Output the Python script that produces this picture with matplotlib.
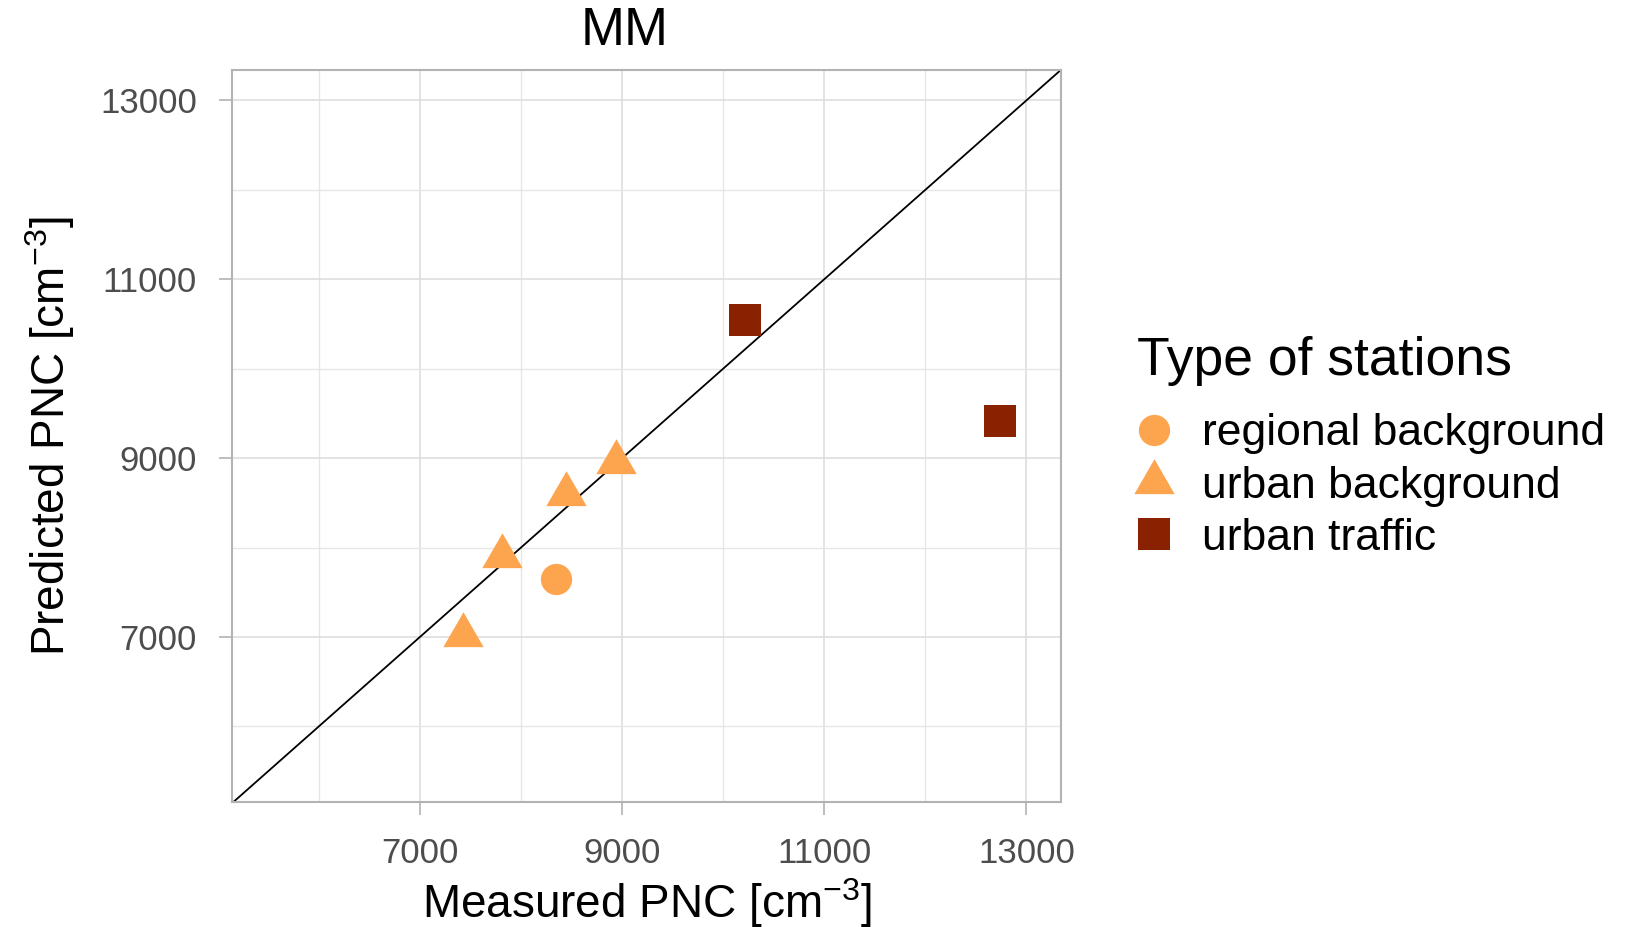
import numpy as np
import matplotlib.pyplot as plt
from matplotlib.path import Path
from matplotlib.lines import Line2D

plt.rcParams['font.family'] = ['Liberation Sans', 'DejaVu Sans']
plt.rcParams['mathtext.fontset'] = 'custom'
plt.rcParams['mathtext.rm'] = 'Liberation Sans'
plt.rcParams['mathtext.it'] = 'Liberation Sans:italic'
plt.rcParams['mathtext.default'] = 'regular'

# measured vs predicted PNC per station type
station_types = ['regional background', 'urban background', 'urban traffic']
measured = {
    'regional background': [8351],
    'urban background': [7428, 7817, 8443, 8938],
    'urban traffic': [10220, 12740],
}
predicted = {
    'regional background': [7654],
    'urban background': [7018, 7901, 8603, 8960],
    'urban traffic': [10549, 9410],
}
major_ticks = [7000, 9000, 11000, 13000]
minor_ticks = [6000, 8000, 10000, 12000]

# triangle centred on its centroid, like R's pch 17
tri = Path([(0, 1), (-0.866, -0.5), (0.866, -0.5), (0, 1)],
           [Path.MOVETO, Path.LINETO, Path.LINETO, Path.CLOSEPOLY])
styles = {
    'regional background': dict(marker='o', color='#FDA44E', ms=22.5),
    'urban background': dict(marker=tri, color='#FDA44E', ms=33.5),
    'urban traffic': dict(marker='s', color='#8A2100', ms=22.5),
}

fig = plt.figure(figsize=(16.26, 9.27), dpi=100)
ax = fig.add_axes([0.1429, 0.1353, 0.5095, 0.7897])

ax.set_xlim(5145, 13340)
ax.set_ylim(5160, 13345)
ax.set_xticks(major_ticks)
ax.set_yticks(major_ticks)
ax.set_xticks(minor_ticks, minor=True)
ax.set_yticks(minor_ticks, minor=True)
ax.grid(which='major', color='#DEDEDE', lw=1.2)
ax.grid(which='minor', color='#E6E6E6', lw=1.0)
ax.set_axisbelow(True)
for s in ax.spines.values():
    s.set_color('#B3B3B3')
    s.set_linewidth(1.5)
ax.tick_params(which='major', length=9.5, width=1.2, color='#B3B3B3',
               labelsize=25, labelcolor='#4D4D4D', pad=16)
ax.tick_params(which='minor', length=0)

ax.axline((0, 0), slope=1, color='black', lw=1.3, zorder=2)

handles = []
for t in station_types:
    st = styles[t]
    ax.plot(measured[t], predicted[t], ls='none', marker=st['marker'],
            color=st['color'], ms=st['ms'], mew=0, zorder=3)
    handles.append(Line2D([], [], ls='none', marker=st['marker'],
                          color=st['color'], ms=st['ms'], mew=0, label=t))

fig.text(0.384, 0.951, 'MM', fontsize=38, ha='center', va='baseline')
fig.text(0.3976, 0.010, 'Measured PNC [cm$^{-3}$]', fontsize=33,
         ha='center', va='baseline')
fig.text(0.031, 0.530, 'Predicted PNC [cm$^{-3}$]', fontsize=33,
         rotation=90, ha='center', va='center')

# legend: title set apart from the entries
fig.text(0.699, 0.595, 'Type of stations', fontsize=38.5, ha='left',
         va='baseline')
leg = fig.legend(handles=handles, loc='upper left',
                 bbox_to_anchor=(0.700, 0.554), frameon=False, fontsize=32,
                 handlelength=0.71, handletextpad=0.72, labelspacing=0.25,
                 borderpad=0, borderaxespad=0)

fig.savefig('out.png', dpi=100)
